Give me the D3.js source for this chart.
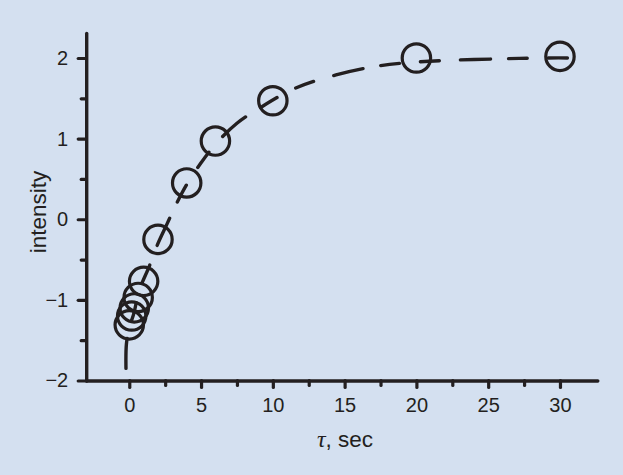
<!DOCTYPE html>
<html>
<head>
<meta charset="utf-8">
<script src="https://cdn.jsdelivr.net/npm/d3@7"></script>
<style>
  html, body { margin: 0; padding: 0; background: #d4e0f0; }
  svg { display: block; }
</style>
</head>
<body>
<svg id="chart" width="623" height="475"></svg>
<script>
// measured points (circles)
var tau = [0, 0.17, 0.35, 0.62, 1, 2, 4, 6, 10, 20, 30];
var intensity = [-1.31, -1.2, -1.1, -0.97, -0.77, -0.25, 0.45, 0.97, 1.47, 2.0, 2.02];

// fitted curve (dashed)
var fitTau = [-0.23, -0.2, 0, 0.3, 0.7, 1.4, 2, 2.6, 3.2, 4, 5, 6, 7.5, 9, 11.5, 14.4, 17.3, 20, 23, 26, 28.5, 31.8];
var fitVal = [-1.85, -1.55, -1.34, -1.18, -0.88, -0.58, -0.3, -0.07, 0.16, 0.43, 0.7, 0.93, 1.19, 1.37, 1.62, 1.79, 1.9, 1.95, 1.976, 1.99, 2.0, 2.0];

var xTicks = [0, 5, 10, 15, 20, 25, 30];
var xMinor = [2.5, 7.5, 12.5, 17.5, 22.5, 27.5];
var yTicks = [-2, -1, 0, 1, 2];
var yMinor = [-1.5, -0.5, 0.5, 1.5];

var ink = '#231f20';
var font = '"Liberation Sans", Arial, sans-serif';
var svg = d3.select('#chart');

var x = d3.scaleLinear().domain([-3, 32.6]).range([86.2, 597.3]);
var y = d3.scaleLinear().domain([-2, 2.31]).range([380.5, 33]);
var fmt = d3.format('d');

// minor ticks
svg.append('g')
    .attr('transform', 'translate(0,' + y(-2) + ')')
    .call(d3.axisBottom(x).tickValues(xMinor).tickSize(5).tickSizeOuter(0).tickFormat(''))
    .call(function(g){ g.select('.domain').remove(); });
svg.append('g')
    .attr('transform', 'translate(' + x(-3) + ',0)')
    .call(d3.axisLeft(y).tickValues(yMinor).tickSize(5).tickSizeOuter(0).tickFormat(''))
    .call(function(g){ g.select('.domain').remove(); });

// major ticks + labels
var xAxis = svg.append('g')
    .attr('transform', 'translate(0,' + y(-2) + ')')
    .call(d3.axisBottom(x).tickValues(xTicks).tickFormat(fmt).tickSize(7).tickSizeOuter(0).tickPadding(10));
var yAxis = svg.append('g')
    .attr('transform', 'translate(' + x(-3) + ',0)')
    .call(d3.axisLeft(y).tickValues(yTicks).tickFormat(fmt).tickSize(8).tickSizeOuter(0).tickPadding(10));

svg.selectAll('g').attr('font-family', font).attr('font-size', 20);
svg.selectAll('.tick text').attr('fill', ink);

svg.selectAll('.tick line')
    .attr('stroke', ink)
    .attr('stroke-width', 3.2)
    .attr('stroke-linecap', 'round');
svg.selectAll('.domain')
    .attr('stroke', ink)
    .attr('stroke-width', 3.4)
    .attr('stroke-linecap', 'round');

// fitted curve
var fit = fitTau.map(function(t, i){ return [t, fitVal[i]]; });
var line = d3.line()
    .x(function(d){ return x(d[0]); })
    .y(function(d){ return y(d[1]); })
    .curve(d3.curveCatmullRom.alpha(0.5));

svg.append('path')
    .datum(fit)
    .attr('d', line)
    .attr('fill', 'none')
    .attr('stroke', ink)
    .attr('stroke-width', 3.4)
    .attr('stroke-linecap', 'round')
    .attr('stroke-dasharray', '30,18,19,21,19,21');

// data circles
var pts = tau.map(function(t, i){ return {t: t, v: intensity[i]}; });
svg.selectAll('circle.pt')
    .data(pts)
    .enter()
    .append('circle')
    .attr('class', 'pt')
    .attr('cx', function(d){ return x(d.t); })
    .attr('cy', function(d){ return y(d.v); })
    .attr('r', 14.2)
    .attr('fill', 'none')
    .attr('stroke', ink)
    .attr('stroke-width', 3.2);

// axis titles
svg.append('text')
    .attr('x', 345)
    .attr('y', 447)
    .attr('text-anchor', 'middle')
    .style('font-family', font)
    .style('font-size', '22.5px')
    .style('fill', ink)
    .call(function(t){
        t.append('tspan')
            .style('font-family', '"Liberation Serif", "Times New Roman", serif')
            .style('font-style', 'italic')
            .style('font-size', '24px')
            .text('τ');
        t.append('tspan').text(', sec');
    });

svg.append('text')
    .attr('transform', 'translate(46,212) rotate(-90)')
    .attr('text-anchor', 'middle')
    .style('font-family', font)
    .style('font-size', '22.5px')
    .style('fill', ink)
    .text('intensity');
</script>
</body>
</html>
